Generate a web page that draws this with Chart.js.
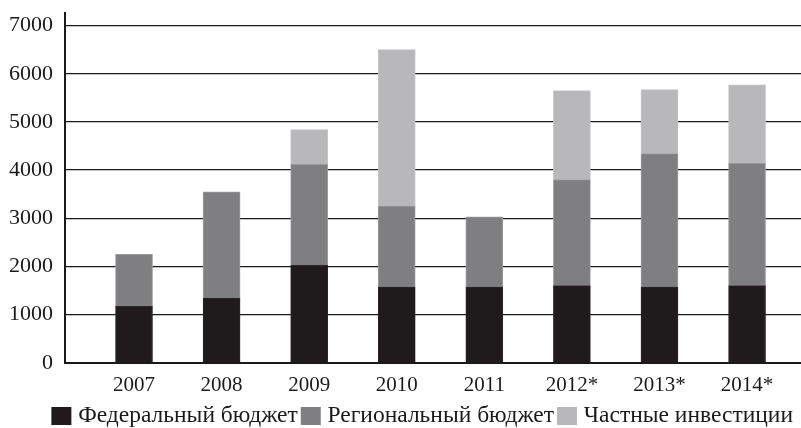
<!DOCTYPE html>
<html>
<head>
<meta charset="utf-8">
<script src="https://cdn.jsdelivr.net/npm/chart.js@4.4.0/dist/chart.umd.min.js"></script>
<style>
    body { margin: 0; background: #ffffff; }
    #chart { display: block; }
</style>
</head>
<body>
<canvas id="chart" width="801" height="428"></canvas>
<script>
// годы и значения (чтение с картинки)
const years = ['2007', '2008', '2009', '2010', '2011', '2012*', '2013*', '2014*'];
const federal = [1170, 1350, 2020, 1570, 1570, 1600, 1570, 1600];
const regional = [1080, 2200, 2100, 1680, 1460, 2200, 2770, 2540];
const privateInv = [0, 0, 720, 3250, 0, 1850, 1330, 1630];
const yTicks = [0, 1000, 2000, 3000, 4000, 5000, 6000, 7000];

const seriesNames = ['Федеральный бюджет', 'Региональный бюджет', 'Частные инвестиции'];
const fill = ['#1f1b1c', '#7f7f81', '#b8b8ba'];
const edge = ['#2a2627', '#9a9a9c', '#c4c4c6'];

const font = "'Liberation Serif', 'Times New Roman', serif";

function points(values) {
    return values.map((v, i) => ({ x: i, y: v }));
}

const ctx = document.getElementById('chart').getContext('2d');
const chart = new Chart(ctx, {
    type: 'bar',
    data: {
        datasets: [
            { label: seriesNames[0], data: points(federal) },
            { label: seriesNames[1], data: points(regional) },
            { label: seriesNames[2], data: points(privateInv) }
        ].map((d, i) => Object.assign(d, {
            backgroundColor: fill[i],
            borderColor: edge[i],
            borderWidth: 1,
            barThickness: 37
        }))
    },
    options: {
        responsive: false,
        animation: false,
        layout: { padding: { top: 0, left: 0, right: 0, bottom: -9.75 } },
        plugins: {
            tooltip: { enabled: false },
            legend: {
                position: 'bottom',
                align: 'end',
                labels: {
                    font: { family: font, size: 23.5, lineHeight: 1 },
                    color: '#1a1a1a',
                    boxWidth: 10,
                    boxHeight: 8,
                    padding: 8,
                    // квадрат рисуем толстой обводкой, чтобы текст стоял ближе
                    generateLabels: (c) => Chart.defaults.plugins.legend.labels.generateLabels(c).map((item, i) => {
                        item.lineWidth = 10;
                        item.strokeStyle = fill[i];
                        item.fillStyle = fill[i];
                        return item;
                    })
                }
            }
        },
        scales: {
            x: {
                type: 'linear',
                stacked: true,
                offset: false,
                min: -0.788,
                max: 7.616,
                afterBuildTicks: (s) => { s.ticks = years.map((_, i) => ({ value: i })); },
                afterFit: (s) => { s.height = 33.5; },
                grid: { display: false, drawTicks: false },
                border: { display: true, color: '#1a1a1a', width: 2 },
                ticks: {
                    font: { family: font, size: 21, lineHeight: 1 },
                    color: '#1a1a1a',
                    padding: 12.5,
                    maxRotation: 0,
                    callback: (v) => years[v] ?? ''
                }
            },
            y: {
                stacked: true,
                min: 0,
                max: 7270,
                afterBuildTicks: (s) => { s.ticks = yTicks.map(v => ({ value: v })); },
                afterFit: (s) => { s.width = 65; },
                grid: { color: '#1a1a1a', lineWidth: 1.3, drawTicks: false },
                border: { display: true, color: '#1a1a1a', width: 2 },
                ticks: {
                    font: { family: font, size: 22, lineHeight: 0.05 },
                    color: '#1a1a1a',
                    padding: 12,
                    callback: (v) => String(v)
                }
            }
        }
    }
});
</script>
</body>
</html>
